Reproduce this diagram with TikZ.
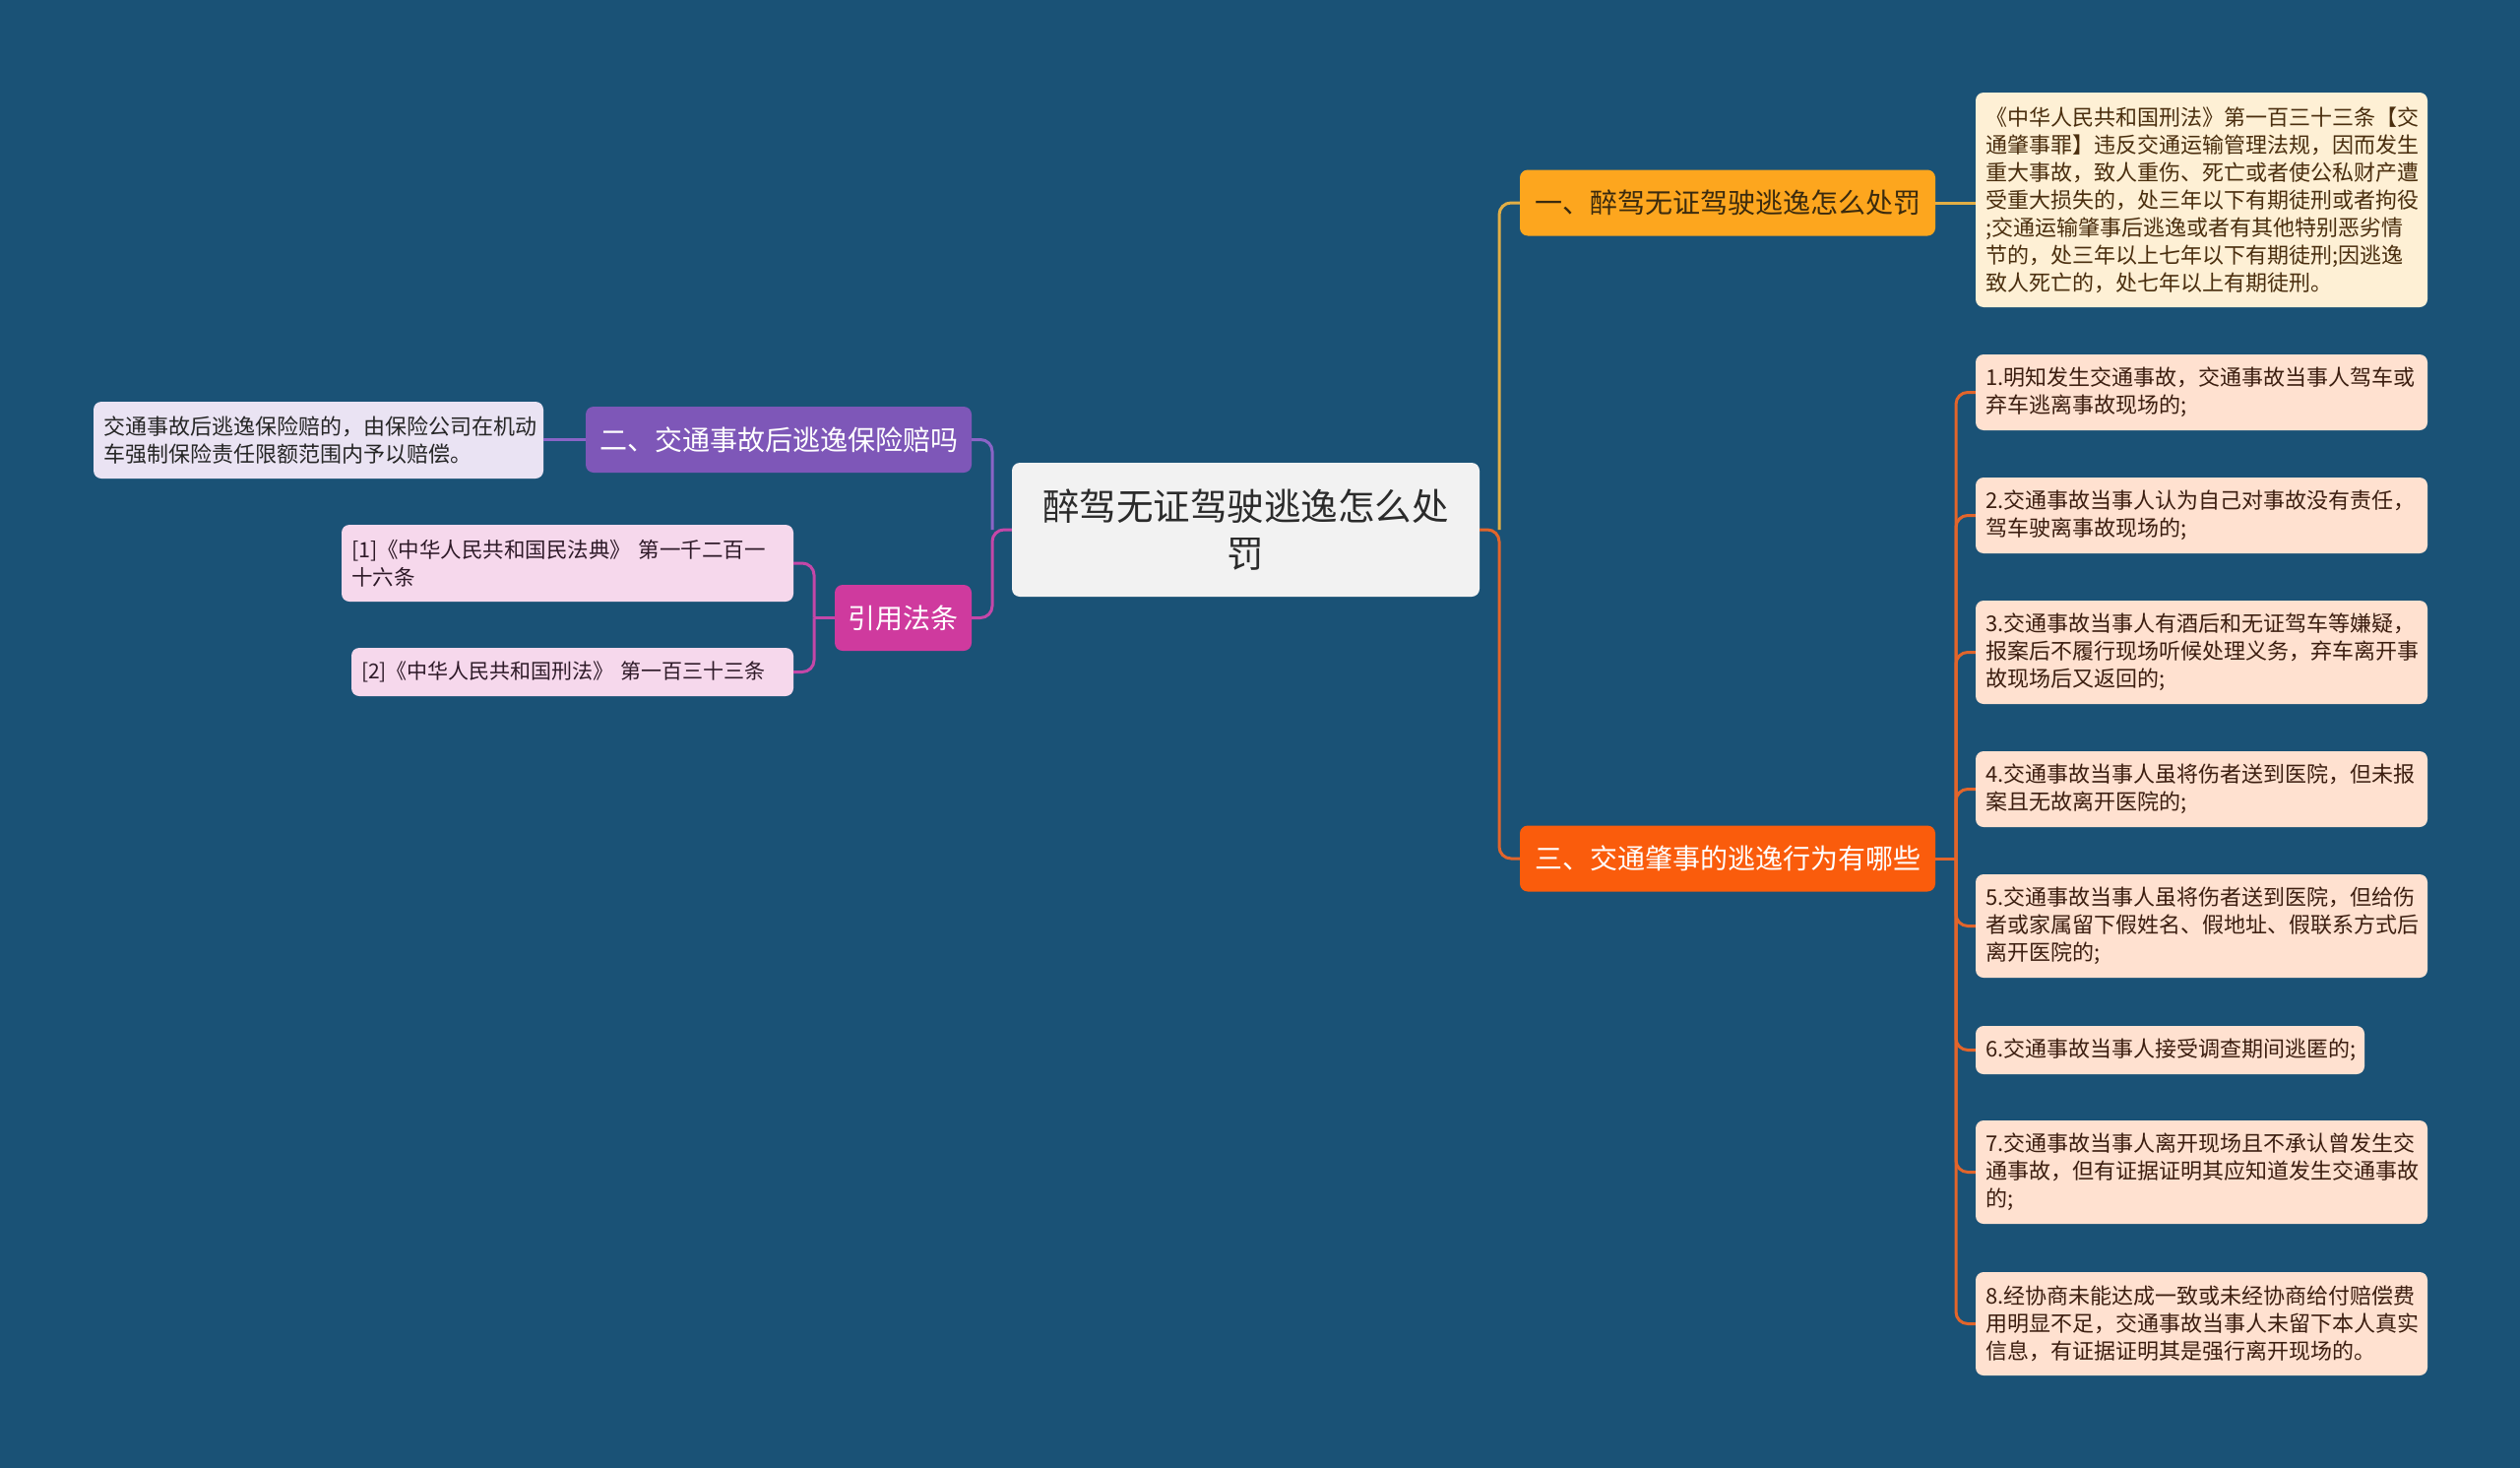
\documentclass[tikz,border=0pt]{standalone}
\usepackage{fontspec}
\newfontfamily\cjk{Noto Sans CJK SC}
\definecolor{bgc}{HTML}{1A5276}
\definecolor{cfill}{HTML}{F2F2F2}
\definecolor{ctext}{HTML}{2B2B2B}
\definecolor{yfill}{HTML}{FDA61E}
\definecolor{ytext}{HTML}{3A2A0E}
\definecolor{yline}{HTML}{E2AE45}
\definecolor{ylfill}{HTML}{FEF0D5}
\definecolor{ylText}{HTML}{4A2E0E}
\definecolor{ofill}{HTML}{FA5C0C}
\definecolor{oline}{HTML}{E2652B}
\definecolor{olfill}{HTML}{FFE1D0}
\definecolor{olText}{HTML}{3C1E10}
\definecolor{pfill}{HTML}{7E57B8}
\definecolor{pline}{HTML}{8A64C6}
\definecolor{plfill}{HTML}{EAE3F3}
\definecolor{plText}{HTML}{262626}
\definecolor{mfill}{HTML}{CF3A9E}
\definecolor{mline}{HTML}{C447A8}
\definecolor{mlfill}{HTML}{F6D8EC}
\definecolor{mlText}{HTML}{2E1A28}
\begin{document}
\begin{tikzpicture}[x=1pt,y=-1pt,
  basebox/.style={rounded corners=8pt, inner ysep=0pt, anchor=center},
  centerbox/.style={basebox, fill=cfill, text=ctext, align=center, inner xsep=14pt,
    font=\cjk\fontsize{37.5}{48}\selectfont},
  branchbox/.style={basebox, inner xsep=12pt, align=center, minimum height=67pt,
    font=\cjk\fontsize{28}{34}\selectfont},
  leafbox/.style={basebox, inner xsep=10pt, align=left,
    font=\cjk\fontsize{22}{28}\selectfont},
  conn/.style={line width=3pt, rounded corners=12pt}
]
\fill[bgc] (0,0) rectangle (2560,1491);
\useasboundingbox (0,0) rectangle (2560,1491);

% central node
\node[centerbox, minimum width=475pt, minimum height=136pt] (c) at (1265.5,538)
  {醉驾无证驾驶逃逸怎么处\\罚};

% right branches
\node[branchbox, fill=yfill, text=ytext, minimum width=422pt] (b1) at (1755,206)
  {一、醉驾无证驾驶逃逸怎么处罚};
\node[branchbox, fill=ofill, text=white, minimum width=422pt] (b3) at (1755,872)
  {三、交通肇事的逃逸行为有哪些};

% left branches
\node[branchbox, fill=pfill, text=white, minimum width=392pt] (b2) at (791,446.5)
  {二、交通事故后逃逸保险赔吗};
\node[branchbox, fill=mfill, text=white, minimum width=139pt] (b4) at (917.5,627.5)
  {引用法条};

% leaf of branch 1
\node[leafbox, fill=ylfill, text=ylText, minimum width=459pt, minimum height=218pt, text width=439pt] (l1) at (2236.5,203)
  {《中华人民共和国刑法》第一百三十三条【交\\
   通肇事罪】违反交通运输管理法规，因而发生\\
   重大事故，致人重伤、死亡或者使公私财产遭\\
   受重大损失的，处三年以下有期徒刑或者拘役\\
   ;交通运输肇事后逃逸或者有其他特别恶劣情\\
   节的，处三年以上七年以下有期徒刑;因逃逸\\
   致人死亡的，处七年以上有期徒刑。};

% leaves of branch 3
\tikzset{item/.style={leafbox, fill=olfill, text=olText, minimum width=459pt, text width=439pt}}
\node[item, minimum height=77pt] (i1) at (2236.5,398.5)
  {1.明知发生交通事故，交通事故当事人驾车或\\弃车逃离事故现场的;};
\node[item, minimum height=77pt] (i2) at (2236.5,523.5)
  {2.交通事故当事人认为自己对事故没有责任，\\驾车驶离事故现场的;};
\node[item, minimum height=105pt] (i3) at (2236.5,662.5)
  {3.交通事故当事人有酒后和无证驾车等嫌疑，\\报案后不履行现场听候处理义务，弃车离开事\\故现场后又返回的;};
\node[item, minimum height=77pt] (i4) at (2236.5,801.5)
  {4.交通事故当事人虽将伤者送到医院，但未报\\案且无故离开医院的;};
\node[item, minimum height=105pt] (i5) at (2236.5,940.5)
  {5.交通事故当事人虽将伤者送到医院，但给伤\\者或家属留下假姓名、假地址、假联系方式后\\离开医院的;};
\node[item, minimum height=49pt, minimum width=395pt, text width=375pt] (i6) at (2204.5,1066.5)
  {6.交通事故当事人接受调查期间逃匿的;};
\node[item, minimum height=105pt] (i7) at (2236.5,1190.5)
  {7.交通事故当事人离开现场且不承认曾发生交\\通事故，但有证据证明其应知道发生交通事故\\的;};
\node[item, minimum height=105pt] (i8) at (2236.5,1344.5)
  {8.经协商未能达成一致或未经协商给付赔偿费\\用明显不足，交通事故当事人未留下本人真实\\信息，有证据证明其是强行离开现场的。};

% leaf of branch 2
\node[leafbox, fill=plfill, text=plText, minimum width=457pt, minimum height=78pt, text width=437pt] (l2) at (323.5,447)
  {交通事故后逃逸保险赔的，由保险公司在机动\\车强制保险责任限额范围内予以赔偿。};

% leaves of citation
\node[leafbox, fill=mlfill, text=mlText, minimum width=459pt, minimum height=78pt, text width=439pt,
  font=\cjk\fontsize{21.5}{28}\selectfont] (r1) at (576.5,572)
  {[1]《中华人民共和国民法典》~第一千二百一\\十六条};
\node[leafbox, fill=mlfill, text=mlText, minimum width=449pt, minimum height=49pt, text width=429pt,
  font=\cjk\fontsize{21}{28}\selectfont] (r2) at (581.5,682.5)
  {[2]《中华人民共和国刑法》~第一百三十三条};

% junction coordinates
\coordinate (jR) at (1523,538);
\coordinate (jL) at (1008,538);
\coordinate (jI) at (1987,872);
\coordinate (jQ) at (827,627.5);

% right connectors
\draw[conn, yline] (jR) |- (b1.west);
\draw[conn, oline] (c.east) -- (jR) |- (b3.west);
\draw[conn, yline] (b1.east) -- (b1.east -| l1.west);
\draw[conn, oline] (b3.east) -- (jI);
\foreach \n in {i1,i2,i3,i4,i5,i6,i7,i8}{
  \draw[conn, oline] (jI) |- (\n.west);
}

% left connectors
\draw[conn, pline] (jL) |- (b2.east);
\draw[conn, mline] (c.west) -- (jL) |- (b4.east);
\draw[conn, pline] (b2.west) -- (b2.west -| l2.east);
\draw[conn, mline] (b4.west) -- (jQ);
\draw[conn, mline] (jQ) |- (r1.east);
\draw[conn, mline] (jQ) |- (r2.east);
\end{tikzpicture}
\end{document}
